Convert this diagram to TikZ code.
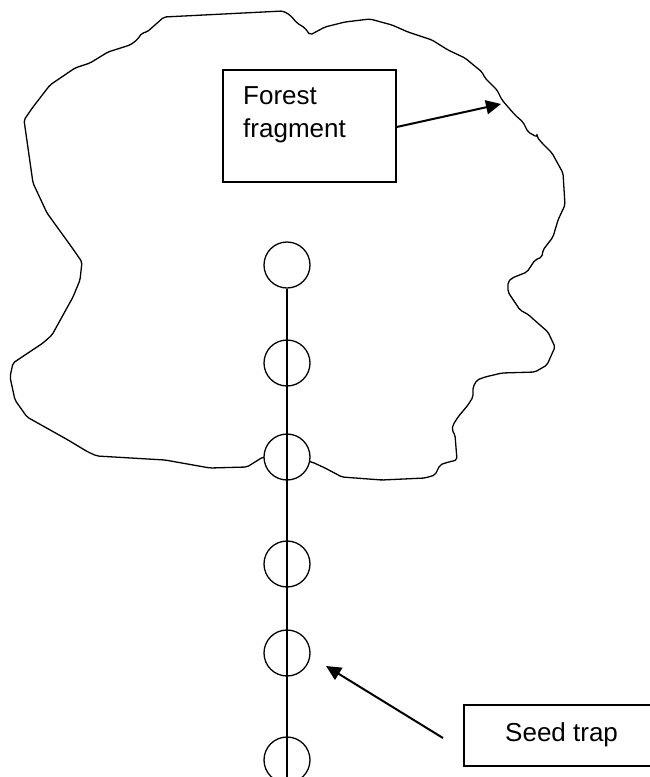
\documentclass[tikz,border=0pt]{standalone}
\usepackage{fontspec}
\setmainfont{Liberation Sans}
\usetikzlibrary{arrows.meta}
\begin{document}
\begin{tikzpicture}[x=1pt,y=-1pt,
  outline/.style={line width=1.3pt, line join=round, rounded corners=2pt},
  trap/.style={circle, draw, line width=1.3pt, fill=white, minimum size=46pt, inner sep=0pt},
  box/.style={draw, line width=1.3pt, inner sep=0pt},
  lbl/.style={inner sep=0pt, font=\fontsize{26}{33}\selectfont},
  pointer/.style={line width=2pt, -{Triangle[length=15pt,width=14pt]}}]
\useasboundingbox (0,0) rectangle (650,777);
\clip (0,0) rectangle (650,777);
\fill[white] (0,0) rectangle (650,777);
% forest fragment outline
\draw[outline] (164,17) -- (283,11) -- (290,15) -- (297,23) -- (305,28) -- (310,35) -- (325,27)
  -- (345,22) -- (370,19) -- (392,25) -- (408,32) -- (432,40) -- (448,50) -- (465,58)
  -- (482,72) -- (485,78) -- (497,90) -- (502,100) -- (515,115) -- (523,122) -- (528,132)
  -- (537,137) -- (537,133) -- (537,137) -- (542,143) -- (552,153) -- (563,173) -- (565,205)
  -- (558,220) -- (553,237) -- (543,250) -- (542,257) -- (535,260) -- (527,272) -- (512,278)
  -- (508,282) -- (508,292) -- (520,310) -- (529,315) -- (532,318) -- (548,332) -- (555,347)
  -- (547,365) -- (535,372) -- (502,373) -- (485,377) -- (477,380) -- (473,387) -- (473,397)
  -- (468,405) -- (458,417) -- (453,425) -- (452,430) -- (455,435) -- (457,460) -- (445,463)
  -- (440,465) -- (435,475) -- (425,478) -- (382,480) -- (342,477) -- (325,468) -- (312,462)
  -- (287,457) -- (263,457) -- (247,467) -- (210,468) -- (165,460) -- (97,456) -- (88,452)
  -- (68,440) -- (27,417) -- (15,400) -- (10,377) -- (13,363) -- (43,343) -- (52,335)
  -- (73,297) -- (80,280) -- (82,262) -- (73,249) -- (47,213) -- (33,183) -- (24,120)
  -- (33,107) -- (50,85) -- (75,68) -- (90,63) -- (108,52) -- (130,45) -- (137,40)
  -- (142,33) -- (147,32) -- cycle;
% seed traps
\node[trap] (c1) at (287,265) {};
\node[trap] (c2) at (287,363) {};
\node[trap] (c3) at (287,457) {};
\node[trap] (c4) at (287,564) {};
\node[trap] (c5) at (287,653) {};
\node[trap] (c6) at (287,760) {};
\coordinate (lineend) at (287,790);
\draw[line width=1.3pt] (c1.south) -- (lineend);
% labels
\node[box, minimum width=173pt, minimum height=112pt] (ff) at (309.5,126) {};
\node[lbl, anchor=north west, align=left] (fftext) at (243,86.4) {Forest\\fragment};
\node[box, minimum width=240pt, minimum height=61pt] (st) at (584,735.5) {};
\node[lbl, anchor=base west] (sttext) at (505,741) {Seed trap};
% pointers
\coordinate (fftip) at (501,104);
\coordinate (sttail) at (443,738);
\coordinate (sttip) at (326,666);
\draw[pointer] (ff.east |- 0,127) -- (fftip);
\draw[pointer] (sttail) -- (sttip);
\end{tikzpicture}
\end{document}
